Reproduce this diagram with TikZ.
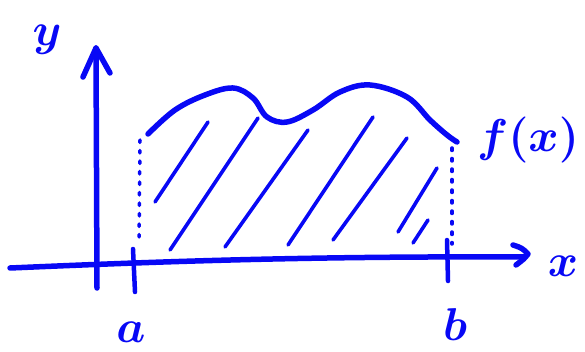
\documentclass[tikz,border=0pt]{standalone}
\definecolor{pen}{RGB}{8,8,245}
\begin{document}
\begin{tikzpicture}[x=1pt,y=-1pt,
  ink/.style={draw=pen, line cap=round, line join=round},
  thick ink/.style={ink, line width=5.5pt},
  hatch/.style={ink, line width=3.6pt},
  dots/.style={ink, line width=3.5pt, dash pattern=on 2.5pt off 8pt},
  lbl/.style={text=pen, inner sep=0pt, scale=1.85, font=\Huge\boldmath}]
\useasboundingbox (0,0) rectangle (585,352);
% axes coordinates
\coordinate (xs) at (10,268);
\coordinate (xe) at (524,257);
\coordinate (xt) at (528,254);
\coordinate (xb1) at (513,245);
\coordinate (xb2) at (516,265);
\coordinate (ys) at (97,288);
\coordinate (ye) at (96,48);
\coordinate (yb1) at (83,77);
\coordinate (yb2) at (110,73);
% x axis
\draw[thick ink] (xs) .. controls (150,262) and (300,256) .. (xe);
\draw[thick ink] (xb1) .. controls (522,248) .. (xt) .. controls (524,259) .. (xb2);
% y axis
\draw[thick ink] (ys) -- (ye);
\draw[thick ink] (yb1) -- (ye) -- (yb2);
% ticks
\coordinate (ta1) at (133,249); \coordinate (ta2) at (135,292);
\coordinate (tb1) at (447,240); \coordinate (tb2) at (448,281);
\draw[thick ink, line width=4.5pt] (ta1) -- (ta2);
\draw[thick ink, line width=4.5pt] (tb1) -- (tb2);
% dotted verticals
\coordinate (da1) at (140,140); \coordinate (da2) at (139,244);
\coordinate (db1) at (452,148); \coordinate (db2) at (452,244);
\draw[dots] (da1) -- (da2);
\draw[dots] (db1) -- (db2);
% curve
\draw[thick ink] plot[smooth, tension=0.6] coordinates {
 (148,134) (175,110) (205,95) (233,88) (253,98) (267,117) (287,122)
 (313,110) (340,92) (370,85) (407,97) (430,120) (447,135) (457,142)};
% hatching
\coordinate (h1a) at (155,202); \coordinate (h1b) at (208,122);
\coordinate (h2a) at (170,250); \coordinate (h2b) at (258,118);
\coordinate (h3a) at (225,247); \coordinate (h3b) at (308,130);
\coordinate (h4a) at (288,245); \coordinate (h4b) at (373,117);
\coordinate (h5a) at (333,240); \coordinate (h5b) at (407,138);
\coordinate (h6a) at (398,232); \coordinate (h6b) at (437,168);
\coordinate (h7a) at (413,243); \coordinate (h7b) at (428,220);
\foreach \i in {1,...,7} \draw[hatch] (h\i a) -- (h\i b);
% labels
\node[lbl] (ly) at (47,40) {$y$};
\node[lbl] (lf) at (528,140) {$f(x)$};
\node[lbl] (lx) at (563,266) {$x$};
\node[lbl] (la) at (131,332) {$a$};
\node[lbl] (lb) at (455,325) {$b$};
\end{tikzpicture}
\end{document}
